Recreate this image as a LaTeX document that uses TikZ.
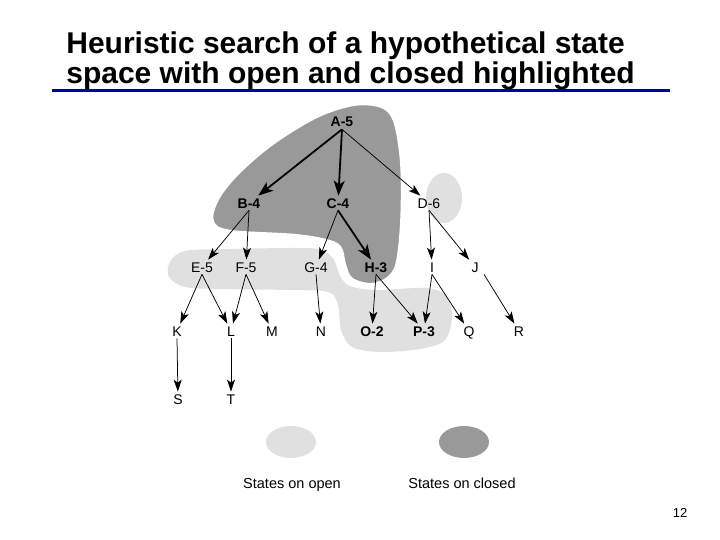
\documentclass[tikz,border=0pt]{standalone}
\usepackage{fontspec}
\setmainfont{Liberation Sans}
\usetikzlibrary{arrows.meta, positioning, calc}

\definecolor{closedgray}{gray}{0.6}
\definecolor{opengray}{gray}{0.88}
\definecolor{rulenavy}{RGB}{0,0,170}

\begin{document}
\begin{tikzpicture}[
    % Global options: pixel grid, line width, font size
    x=1pt, y=-1pt,
    line width=0.7pt,
    font=\fontsize{14}{16}\selectfont,
    st/.style={inner sep=2pt, text height=10pt, text depth=0pt},
    stb/.style={st, font=\fontsize{14}{16}\selectfont\bfseries},
    legend/.style={text height=10pt, text depth=3pt, font=\fontsize{14.5}{16}\selectfont},
    thinarc/.style={-{Stealth[length=12pt,width=8pt,inset=3pt]}, line width=0.75pt},
    thickarc/.style={-{Stealth[length=15pt,width=11pt,inset=4pt]}, line width=1.8pt},
  ]
    \useasboundingbox (0,0) rectangle (720,540);

    % --- Title and rule ---
    \node[anchor=base west, inner sep=0pt, font=\fontsize{30}{34}\selectfont\bfseries]
      (title1) at (66,54) {Heuristic search of a hypothetical state};
    \node[anchor=base west, inner sep=0pt, font=\fontsize{30}{34}\selectfont\bfseries]
      (title2) at (66,84) {space with open and closed highlighted};
    \draw[rulenavy, line width=3pt] (52,91) -- (670,91);

    % --- Open region (light) ---
    \fill[opengray] plot[smooth cycle, tension=0.55] coordinates {
      (170,262) (185,251) (230,249) (300,248) (322,250) (334,260)
      (340,276) (350,286) (375,290) (425,288) (445,295) (452,315)
      (445,340) (420,349) (380,352) (352,347) (341,330) (338,305)
      (328,292) (290,290) (220,289) (185,287) (169,277)};
    \fill[opengray] (444,198) ellipse [x radius=18, y radius=25];

    % --- Closed region (dark) ---
    \filldraw[fill=closedgray, draw=white, line width=2.5pt]
      plot[smooth cycle, tension=0.6] coordinates {
      (363,104) (390,113) (400,150) (402,200) (399,250) (392,274)
      (373,284) (352,279) (345,265) (340,247) (325,240) (293,235)
      (230,231) (213,222) (216,203) (232,180) (262,152) (295,129)
      (328,112)};

    % --- States ---
    \node[stb] (A) at (342,122) {A-5};
    \node[stb] (B) at (249,203) {B-4};
    \node[stb] (C) at (338,203) {C-4};
    \node[st]  (D) at (429,203) {D-6};
    \node[st]  (E) at (202,267) {E-5};
    \node[st]  (F) at (246,267) {F-5};
    \node[st]  (G) at (316,267) {G-4};
    \node[stb] (H) at (376,267) {H-3};
    \node[st]  (I) at (432,267) {I};
    \node[st]  (J) at (475,267) {J};
    \node[st]  (K) at (177,331) {K};
    \node[st]  (L) at (231,331) {L};
    \node[st]  (M) at (272,331) {M};
    \node[st]  (N) at (321,331) {N};
    \node[stb] (O) at (372,331) {O-2};
    \node[stb] (P) at (424,331) {P-3};
    \node[st]  (Q) at (469,331) {Q};
    \node[st]  (R) at (519,331) {R};
    \node[st]  (S) at (178,399) {S};
    \node[st]  (T) at (231,399) {T};

    % --- Arcs ---
    \draw[thickarc] (A.south) -- (B);
    \draw[thickarc] (A.south) -- (C);
    \draw[thinarc]  (A.south) -- (D);
    \draw[thinarc]  (B.south) -- (E);
    \draw[thinarc]  (B.south) -- (F);
    \draw[thinarc]  (C.south) -- (G);
    \draw[thickarc] (C.south) -- (H);
    \draw[thinarc]  (D.south) -- (I);
    \draw[thinarc]  (D.south) -- (J);
    \draw[thinarc]  (E.south) -- (K);
    \draw[thinarc]  (E.south) -- (L);
    \draw[thinarc]  (F.south) -- (L);
    \draw[thinarc]  (F.south) -- (M);
    \draw[thinarc]  (G.south) -- (N);
    \draw[thinarc]  (H.south) -- (O);
    \draw[thinarc]  (H.south) -- (P);
    \draw[thinarc]  (I.south) -- (P);
    \draw[thinarc]  (I.south) -- (Q);
    \draw[thinarc]  ([xshift=9pt]J.south) -- (R);
    \draw[thinarc]  (K.south) -- (S);
    \draw[thinarc]  (L.south) -- (T);

    % --- Legend ---
    \fill[opengray]   (291,442) ellipse [x radius=25, y radius=16];
    \fill[closedgray] (464,442) ellipse [x radius=25, y radius=16];
    \node[legend] (openlbl)   at (292,485) {States on open};
    \node[legend] (closedlbl) at (462,485) {States on closed};

    % --- Page number ---
    \node[font=\fontsize{13}{15}\selectfont] (pageno) at (680,513) {12};
  \end{tikzpicture}
\end{document}
